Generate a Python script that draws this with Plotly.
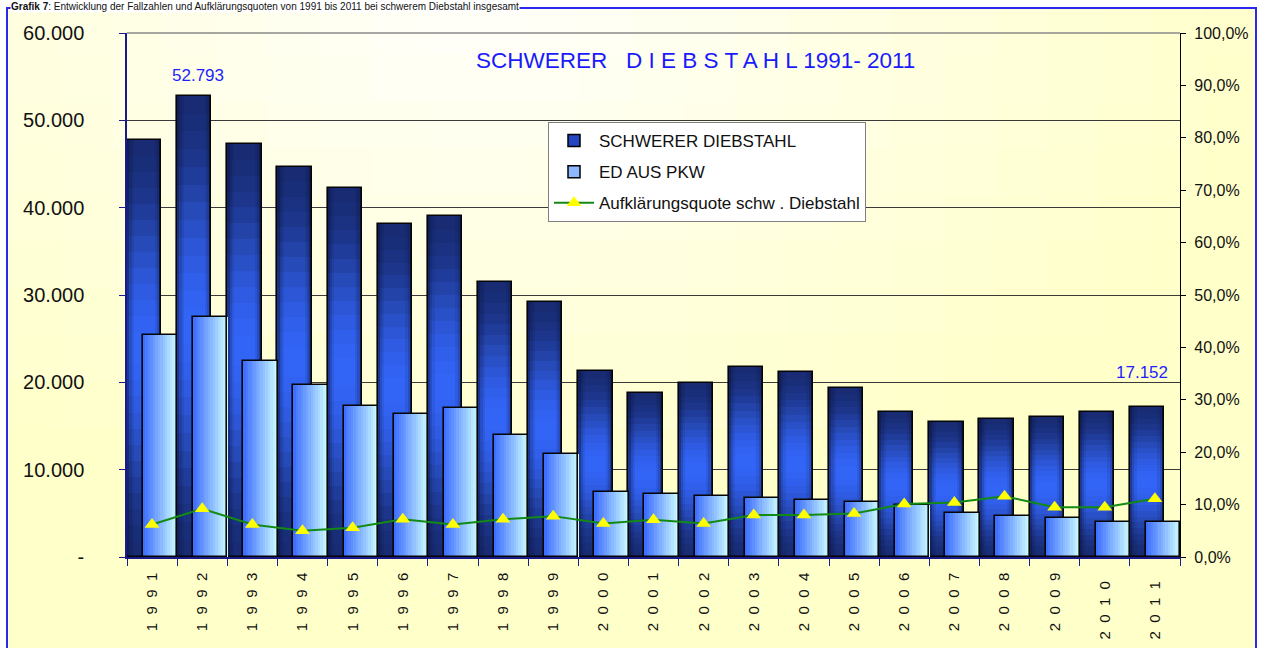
import math
import plotly.graph_objects as go

# ---------------- data ----------------
years = [str(y) for y in range(1991, 2012)]
schwerer = [47800, 52793, 47300, 44700, 42300, 38100, 39000, 31500, 29200, 21300,
            18800, 19900, 21800, 21200, 19400, 16600, 15500, 15800, 16000, 16600, 17152]
ed_pkw = [25400, 27450, 22400, 19700, 17300, 16400, 17100, 14000, 11800, 7400,
          7200, 7000, 6700, 6500, 6300, 5950, 5000, 4650, 4450, 4050, 4050]
quote = [6.2, 9.2, 6.2, 5.0, 5.6, 7.2, 6.2, 7.2, 7.8, 6.4,
         7.1, 6.4, 8.0, 8.0, 8.3, 10.1, 10.4, 11.6, 9.5, 9.5, 11.1]

left_ticks = [0, 10000, 20000, 30000, 40000, 50000, 60000]
left_labels = ["-", "10.000", "20.000", "30.000", "40.000", "50.000", "60.000"]
right_ticks = list(range(0, 101, 10))
right_labels = [f"{v},0%" for v in right_ticks]
year_labels = ["\u00a0\u00a0".join(y) for y in years]
year_labels[-2] += "\u00a0\u00a0"
year_labels[-1] += "\u00a0\u00a0"

name_s = "SCHWERER DIEBSTAHL"
name_e = "ED AUS PKW"
name_q = "Aufklärungsquote schw . Diebstahl"
title_txt = "SCHWERER\u00a0\u00a0\u00a0D I E B S T A H L 1991- 2011"
header_txt = "<b>Grafik 7</b>: Entwicklung der Fallzahlen und Aufklärungsquoten von 1991 bis 2011 bei schwerem Diebstahl insgesamt"


def fmt(v):
    return f"{v:,}".replace(",", ".")


def hex2rgb(h):
    h = h.lstrip("#")
    return tuple(int(h[i:i + 2], 16) for i in (0, 2, 4))


def mix(c1, c2, t):
    a, b = hex2rgb(c1), hex2rgb(c2)
    return "rgb({},{},{})".format(*[round(a[i] + (b[i] - a[i]) * t) for i in range(3)])


# ---------------- geometry (pixels) ----------------
W, H = 1263, 648
L, R, T, B = 127, 1180, 33, 557
pw, ph = R - L, B - T


def px_x(p):
    return (p - L) / pw


def px_y(p):
    return (B - p) / ph


fig = go.Figure()

BAR_W = 0.684
DARK_OFF = -0.5
LIGHT_OFF = -0.181

# legend entries
fig.add_trace(go.Bar(x=[None], y=[None], name=name_s, legendgroup="g1",
                     marker=dict(color="#2446c0", line=dict(color="black", width=1.5))))
fig.add_trace(go.Bar(x=[None], y=[None], name=name_e, legendgroup="g2",
                     marker=dict(color="#8db8ff", line=dict(color="black", width=1.5))))

# dark bars: vertical gradient segments
M = 26
for k in range(M):
    f0, f1 = k / M, (k + 1) / M
    tm = (f0 + f1) / 2
    s = max(0.0, math.cos((tm - 0.5) * math.pi)) ** 1.8
    col = mix("#182b72", "#3264f5", s)
    fig.add_trace(go.Bar(
        x=years, y=[v * (f1 - f0) for v in schwerer], base=[v * f0 for v in schwerer],
        offset=DARK_OFF, width=BAR_W, marker=dict(color=col, line=dict(width=0)),
        showlegend=False, hoverinfo="skip"))

# dark bars: edge darkening
edge = 0.045
for off, alpha in [(DARK_OFF, 0.5), (DARK_OFF + edge, 0.25), (DARK_OFF + 2 * edge, 0.1),
                   (DARK_OFF + BAR_W - edge, 0.5), (DARK_OFF + BAR_W - 2 * edge, 0.25),
                   (DARK_OFF + BAR_W - 3 * edge, 0.1)]:
    fig.add_trace(go.Bar(x=years, y=schwerer, offset=off, width=edge,
                         marker=dict(color=f"rgba(8,16,55,{alpha})", line=dict(width=0)),
                         showlegend=False, hoverinfo="skip"))

# dark bar outline
fig.add_trace(go.Bar(x=years, y=schwerer, offset=DARK_OFF, width=BAR_W,
                     marker=dict(color="rgba(0,0,0,0)", line=dict(color="#050505", width=1.6)),
                     showlegend=False, hoverinfo="skip"))

# light bars: horizontal gradient slices
N = 14
for k in range(N):
    col = mix("#3a6aff", "#cfffff", (k + 0.5) / N)
    fig.add_trace(go.Bar(x=years, y=ed_pkw, offset=LIGHT_OFF + BAR_W * k / N, width=BAR_W / N * 1.03,
                         marker=dict(color=col, line=dict(width=0)),
                         showlegend=False, hoverinfo="skip"))
fig.add_trace(go.Bar(x=years, y=ed_pkw, offset=LIGHT_OFF, width=BAR_W,
                     marker=dict(color="rgba(0,0,0,0)", line=dict(color="#050505", width=1.6)),
                     showlegend=False, hoverinfo="skip"))

# quote line
fig.add_trace(go.Scatter(x=years, y=quote, yaxis="y2", mode="lines+markers", name=name_q,
                         legendgroup="g3",
                         line=dict(color="#138a13", width=2),
                         marker=dict(symbol="triangle-up", size=13, color="#ffff00",
                                     line=dict(width=0))))

# ---------------- shapes ----------------
shapes = []
FX0, FX1, FY0, FY1 = 7, 1256, 8, 660
cols, rows = 24, 14
for i in range(cols):
    for j in range(rows):
        x0 = FX0 + (FX1 - FX0) * i / cols
        x1 = FX0 + (FX1 - FX0) * (i + 1) / cols
        y0 = FY0 + (FY1 - FY0) * j / rows
        y1 = FY0 + (FY1 - FY0) * (j + 1) / rows
        cx, cy = (x0 + x1) / 2, (y0 + y1) / 2
        d = math.hypot((cx - 480) * 0.8, (cy - 10) * 1.3)
        t = min(1.0, d / 650)
        shapes.append(dict(type="rect", xref="paper", yref="paper", layer="below",
                           x0=px_x(x0), x1=px_x(x1) + 0.0008, y0=px_y(y1) - 0.001, y1=px_y(y0),
                           line=dict(width=0), fillcolor=mix("#fffffb", "#ffffc9", t)))
shapes.append(dict(type="rect", xref="paper", yref="paper", layer="above",
                   x0=px_x(FX0), x1=px_x(FX1), y0=px_y(FY1), y1=px_y(FY0),
                   line=dict(color="#2828f0", width=2), fillcolor="rgba(0,0,0,0)"))
shapes.append(dict(type="line", xref="paper", yref="paper", layer="above",
                   x0=0, x1=1, y0=1, y1=1, line=dict(color="#8a8a8a", width=1.5)))

# ---------------- annotations ----------------
i_max = schwerer.index(max(schwerer))
i_last = len(schwerer) - 1
annotations = [
    dict(text=header_txt, xref="paper", yref="paper", x=px_x(10), y=px_y(0),
         xanchor="left", yanchor="top", showarrow=False, borderpad=0, bgcolor="white",
         font=dict(size=10, color="#111111", family="Arial, Liberation Sans")),
    dict(text=title_txt, xref="paper", yref="paper", x=px_x(695), y=px_y(61),
         xanchor="center", yanchor="middle", showarrow=False,
         font=dict(size=22.5, color="#1a1aff")),
    dict(text=fmt(schwerer[i_max]), x=i_max, y=schwerer[i_max], xref="x", yref="y",
         yanchor="middle", yshift=20, xshift=-4, showarrow=False,
         font=dict(size=17, color="#1f1fff")),
    dict(text=fmt(schwerer[i_last]), x=i_last, y=schwerer[i_last], xref="x", yref="y",
         yanchor="middle", yshift=35, xshift=-13, showarrow=False,
         font=dict(size=17, color="#1f1fff")),
]

fig.update_layout(
    width=W, height=H,
    margin=dict(l=L, r=W - R, t=T, b=H - B, pad=0, autoexpand=False),
    paper_bgcolor="white", plot_bgcolor="rgba(0,0,0,0)",
    barmode="overlay", bargap=0,
    font=dict(family="Arial, Liberation Sans, sans-serif", color="#1a1a1a"),
    showlegend=True,
    legend=dict(x=px_x(548), y=px_y(122), xanchor="left", yanchor="top",
                bgcolor="white", bordercolor="#7f7f7f", borderwidth=1,
                font=dict(size=17, color="#111111"), tracegroupgap=6,
                traceorder="grouped", itemwidth=40),
    xaxis=dict(type="category", range=[-0.5, 20.5], tickmode="array",
               tickvals=years, ticktext=year_labels, tickangle=-90, automargin=False,
               tickson="boundaries", ticks="outside", ticklen=7, tickcolor="#1a1a8c",
               showline=True, linecolor="#1a1a8c", linewidth=1.5, showgrid=False,
               tickfont=dict(size=15, color="#111111"), ticklabelstandoff=8),
    yaxis=dict(range=[0, 60000], tickmode="array", tickvals=left_ticks, ticktext=left_labels,
               ticks="outside", ticklen=6, tickcolor="#1a1a8c", showline=True, automargin=False,
               linecolor="#1a1a8c", linewidth=1.5, showgrid=True, gridcolor="#3a3a3a",
               gridwidth=1, zeroline=False, tickfont=dict(size=20, color="#111111"),
               ticklabelstandoff=31),
    yaxis2=dict(overlaying="y", side="right", range=[0, 100], tickmode="array",
                tickvals=right_ticks, ticktext=right_labels, showgrid=False, automargin=False,
                showline=True, linecolor="black", linewidth=1.2, ticks="outside",
                ticklen=5, tickcolor="black", zeroline=False,
                tickfont=dict(size=16, color="#111111"), ticklabelstandoff=5),
    shapes=shapes,
    annotations=annotations,
)

fig.write_html("out.html", post_script="document.body.style.margin='0';",
               config={"displayModeBar": False})
